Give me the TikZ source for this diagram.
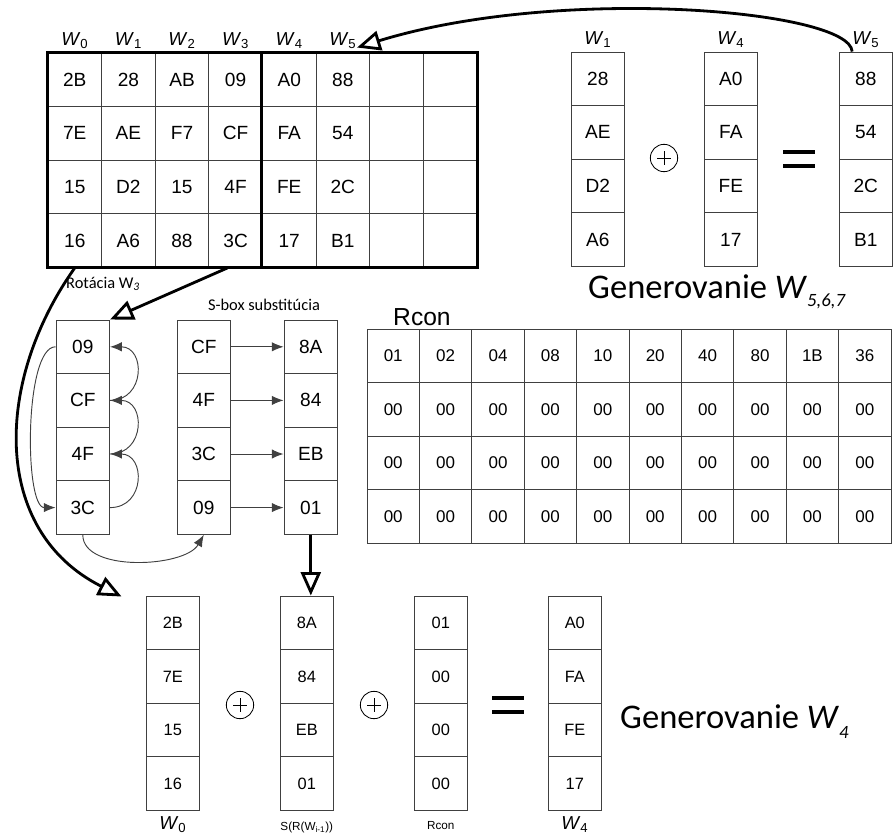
\documentclass[tikz,border=0pt]{standalone}
\usepackage{fontspec}
\setmainfont{Liberation Sans}
\newfontfamily\calib{Carlito}
\usetikzlibrary{arrows.meta,positioning,calc}
\definecolor{edge}{HTML}{404040}
\tikzset{
  cell/.style={draw=edge,line width=0.8pt,minimum width=1.608cm,minimum height=1.608cm,
    inner sep=0pt,font=\fontsize{16.3}{17}\selectfont},
  bcell/.style={cell,font=\fontsize{14}{15}\selectfont},
  rcell/.style={cell,minimum width=1.572cm,font=\fontsize{14.5}{15}\selectfont},
  hdr/.style={inner sep=1pt,font=\fontsize{16}{17}\selectfont},
  small/.style={inner sep=1pt,font=\fontsize{10}{11}\selectfont},
  note/.style={inner sep=0pt,font=\calib\fontsize{14}{15}\selectfont},
  gen/.style={inner sep=0pt,font=\calib\fontsize{29.5}{31}\selectfont},
  bigarrow/.style={line width=2.4pt,-{Triangle[open,length=20pt,width=17pt]}},
  thinarrow/.style={draw=edge,line width=0.8pt,-{Latex[length=10pt,width=8pt]}},
  oplus/.style={circle,draw,line width=0.7pt,minimum size=0.82cm,inner sep=0pt,
    path picture={\draw[line width=0.7pt]
      ([xshift=-0.2cm]path picture bounding box.center) -- ([xshift=0.2cm]path picture bounding box.center)
      ([yshift=-0.2cm]path picture bounding box.center) -- ([yshift=0.2cm]path picture bounding box.center);}},
  eqsign/.style={minimum width=0.96cm,minimum height=0.7cm,inner sep=0pt,
    path picture={\draw[line width=3.6pt]
      ([yshift=0.21cm]path picture bounding box.west) -- ([yshift=0.21cm]path picture bounding box.east)
      ([yshift=-0.21cm]path picture bounding box.west) -- ([yshift=-0.21cm]path picture bounding box.east);}}
}
% one word = a column of four cells
\newcommand{\wcol}[5][cell]{%
  \foreach \v [count=\rw] in {#5}
    \node[#1] (#2-\rw) at ({#3+26.8},{#4+26.8+53.6*(\rw-1)}) {\v};
}

\begin{document}
\begin{tikzpicture}[x=0.03cm,y=-0.03cm]
  \useasboundingbox (0,0) rectangle (894,839);

  % key schedule grid
  \wcol{g1}{48}{53}{2B,7E,15,16}
  \wcol{g2}{101.6}{53}{28,AE,D2,A6}
  \wcol{g3}{155.2}{53}{AB,F7,15,88}
  \wcol{g4}{208.8}{53}{09,CF,4F,3C}
  \wcol{g5}{262.4}{53}{A0,FA,FE,17}
  \wcol{g6}{316}{53}{88,54,2C,B1}
  \wcol{g7}{369.6}{53}{{},{},{},{}}
  \wcol{g8}{423.2}{53}{{},{},{},{}}
  \draw[line width=2.6pt] (g1-1.north west) rectangle (g8-4.south east);
  \draw[line width=2.6pt] (g5-1.north west) -- (g5-4.south west);
  \foreach \i in {0,...,5}
    \node[hdr,above=2pt of g\the\numexpr\i+1\relax-1] {\textit{W}\textsubscript{\i}};

  % W5 = W1 + W4
  \wcol{w1}{571}{52}{28,AE,D2,A6}
  \wcol{w4}{704}{52}{A0,FA,FE,17}
  \wcol{w5}{839}{52}{88,54,2C,B1}
  \node[hdr,above=2pt of w1-1] {\textit{W}\textsubscript{1}};
  \node[hdr,above=2pt of w4-1] {\textit{W}\textsubscript{4}};
  \node[hdr,above=2pt of w5-1] {\textit{W}\textsubscript{5}};
  \node[oplus] (op1) at (664,158) {};
  \node[eqsign] (eq1) at (799,159) {};
  \node[gen,anchor=base west] (gen567) at (588,298)
    {Generovanie \textit{W}\raisebox{-0.25em}{\fontsize{16}{16}\selectfont\itshape 5,6,7}};

  \coordinate (w5tap) at ($(w5-1.north west)!0.25!(w5-1.north east)$);
  \coordinate (g6tip) at ($(g6-1.north east)+(-13,-5)$);
  \draw[bigarrow] (w5tap) .. controls (850,10) and (560,-15) .. (g6tip);

  % rotation and S-box
  \wcol{rot}{56}{320}{09,CF,4F,3C}
  \wcol{mid}{177}{320}{CF,4F,3C,09}
  \wcol{sb}{284}{320}{8A,84,EB,01}
  \node[note,anchor=base west] (rotlbl) at (66,288) {Rotácia W\textsubscript{\textit{3}}};
  \node[note] (sboxlbl) at (264,305) {S-box substitúcia};

  \draw[bigarrow] ($(g4-4.south)+(-8,0)$) -- (rot-1.north east);
  \foreach \a/\b in {4/3,3/2,2/1}
    \draw[thinarrow] (rot-\a.east) to[out=0,in=0,looseness=1.7] (rot-\b.east);
  \draw[thinarrow] (rot-1.west) to[out=180,in=180,looseness=0.5] (rot-4.west);
  \draw[thinarrow] (rot-4.south) to[out=-90,in=-120,looseness=0.8] (mid-4.south);
  \foreach \r in {1,...,4}
    \draw[thinarrow] (mid-\r) -- (sb-\r);

  % Rcon table
  \node[anchor=base west,inner sep=0pt,font=\fontsize{21}{22}\selectfont] (rconlbl) at (393,325) {Rcon};
  \foreach \v [count=\i] in {01,02,04,08,10,20,40,80,1B,36} {
    \node[rcell] (rc\i-1) at ({367+26.2+52.4*(\i-1)},355.8) {\v};
    \foreach \r in {2,3,4}
      \node[rcell] (rc\i-\r) at ({367+26.2+52.4*(\i-1)},{355.8+53.6*(\r-1)}) {00};
  }

  % W4 = W0 + S(R(W3)) + Rcon
  \wcol[bcell]{b1}{146}{596}{2B,7E,15,16}
  \wcol[bcell]{b2}{280}{596}{8A,84,EB,01}
  \wcol[bcell]{b3}{414}{596}{01,00,00,00}
  \wcol[bcell]{b4}{548}{596}{A0,FA,FE,17}
  \node[oplus] (op2) at (240,705) {};
  \node[oplus] (op3) at (374,705) {};
  \node[eqsign] (eq2) at (508,705) {};
  \node[hdr,below=4pt of b1-4] (lw0) {\textit{W}\textsubscript{0}};
  \node[small,below=8pt of b2-4] (lsr) {S(R(W\textsubscript{i-1}))};
  \node[small,below=8pt of b3-4] (lrc) {Rcon};
  \node[hdr,below=4pt of b4-4] (lw4) {\textit{W}\textsubscript{4}};
  \node[gen,anchor=base west] (gen4) at (620,728)
    {Generovanie \textit{W}\raisebox{-0.3em}{\fontsize{16}{16}\selectfont\itshape 4}};

  \draw[bigarrow] (sb-4.south) -- (sb-4.south |- b2-1.north);
  \coordinate (b1tip) at ($(b1-1.north west)+(-24,1)$);
  \draw[bigarrow] (g1-4.south) .. controls (-5,380) and (-10,530) .. (b1tip);
\end{tikzpicture}
\end{document}
